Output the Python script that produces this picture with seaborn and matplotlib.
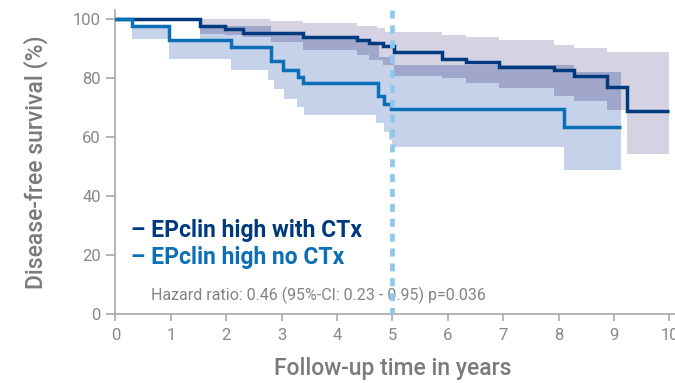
import numpy as np
import pandas as pd
import matplotlib
matplotlib.use("Agg")
import matplotlib.pyplot as plt
import seaborn as sns

# ---------------- data ----------------
# EPclin high with CTx  (Kaplan-Meier steps, survival in %)
dark_t = [0, 1.53, 1.98, 2.30, 3.38, 4.36, 4.58, 4.82, 5.03, 5.89, 6.33, 6.93, 7.92, 8.28, 8.88, 9.24]
dark_s = [100, 97.7, 96.5, 95.1, 93.9, 92.8, 91.9, 90.7, 88.9, 86.3, 85.3, 83.8, 82.5, 80.5, 76.8, 68.9]
dark_end = 10.0
dark_up_t = [0, 2.79, 3.38, 4.36, 4.72, 4.87, 5.89, 6.33, 6.93, 7.92, 8.28, 8.88]
dark_up = [100, 99.2, 98.5, 97.6, 96.8, 95.6, 94.6, 93.7, 92.9, 91.2, 90.1, 88.9]
dark_lo_t = [0, 1.53, 1.98, 2.30, 2.80, 3.38, 4.36, 4.58, 4.82, 5.03, 5.89, 6.33, 6.93, 7.92, 8.28, 8.88, 9.24]
dark_lo = [100, 95.0, 94.5, 93.8, 92.0, 89.4, 87.7, 86.0, 84.3, 80.7, 79.9, 78.4, 76.5, 74.0, 72.0, 69.2, 54.3]

# EPclin high no CTx
light_t = [0, 0.30, 0.97, 2.08, 2.81, 3.02, 3.30, 3.39, 4.73, 4.85, 4.97, 8.10]
light_s = [100, 97.5, 92.9, 90.5, 85.6, 82.7, 80.2, 78.4, 73.7, 71.3, 69.4, 63.5]
light_end = 9.13
light_up_t = [0, 0.30, 0.97, 1.53, 2.80, 3.38, 4.36, 4.58, 4.75, 5.03, 8.28]
light_up = [100, 97.5, 92.9, 97.7, 95.0, 94.0, 92.8, 91.9, 87.0, 84.3, 82.1]
light_lo_t = [0, 0.30, 0.97, 2.08, 2.76, 2.86, 3.04, 3.28, 3.40, 4.70, 4.84, 4.93, 4.99, 8.10]
light_lo = [100, 93.3, 86.5, 82.7, 79.3, 76.2, 72.9, 70.3, 67.3, 64.6, 61.8, 59.0, 56.6, 48.8]

x_ticks = list(range(0, 11))
y_ticks = [0, 20, 40, 60, 80, 100]
landmark_year = 5
series_labels = ["EPclin high with CTx", "EPclin high no CTx"]
hazard_text = "Hazard ratio: 0.46 (95%-CI: 0.23 - 0.95) p=0.036"
x_label = "Follow-up time in years"
y_label = "Disease-free survival (%)"

# ---------------- style ----------------
NAVY = "#003a7e"
BLUE = "#0a6fb6"
LAV = "#d5d2e4"
LB = "#c5d2e9"
OV = "#a1a7cb"
DASH = "#8dc9ec"
GRAY_AX = "#a8a8a8"
GRAY_TXT = "#888888"

sns.set_theme(style="white")
plt.rcParams["font.family"] = ["Roboto", "DejaVu Sans"]

fig = plt.figure(figsize=(6.75, 3.83), dpi=100)
ax = fig.add_axes([0.1711, 0.1802, 0.8289, 0.7937])


def step_eval(t, v, grid):
    idx = np.searchsorted(np.asarray(t), grid, side="right") - 1
    return np.asarray(v, dtype=float)[idx]


grid = np.unique(np.concatenate([dark_t, dark_up_t, dark_lo_t, light_t, light_up_t,
                                 light_lo_t, [dark_end, light_end]]))

# confidence bands
gd = grid[grid <= dark_end]
ax.fill_between(gd, step_eval(dark_lo_t, dark_lo, gd), step_eval(dark_up_t, dark_up, gd),
                step="post", color=LAV, lw=0, zorder=1)
gl = grid[grid <= light_end]
l_lo = step_eval(light_lo_t, light_lo, gl)
l_up = step_eval(light_up_t, light_up, gl)
ax.fill_between(gl, l_lo, l_up, step="post", color=LB, lw=0, zorder=1.1)
ov_lo = np.maximum(l_lo, step_eval(dark_lo_t, dark_lo, gl))
ov_up = np.minimum(l_up, step_eval(dark_up_t, dark_up, gl))
ov_up = np.maximum(ov_up, ov_lo)
ax.fill_between(gl, ov_lo, ov_up, step="post", color=OV, lw=0, zorder=1.2)

# survival curves
df_dark = pd.DataFrame({"t": dark_t + [dark_end], "s": dark_s + [dark_s[-1]]})
df_light = pd.DataFrame({"t": light_t + [light_end], "s": light_s + [light_s[-1]]})
sns.lineplot(data=df_dark, x="t", y="s", ax=ax, color=NAVY, lw=2.5, estimator=None,
             drawstyle="steps-post", zorder=3, solid_joinstyle="miter", solid_capstyle="butt")
sns.lineplot(data=df_light, x="t", y="s", ax=ax, color=BLUE, lw=2.5, estimator=None,
             drawstyle="steps-post", zorder=3.1, solid_joinstyle="miter", solid_capstyle="butt")

# landmark line
ax.plot([landmark_year, landmark_year], [103, 0], color=DASH, lw=3.4, dashes=(1.7, 1.45),
        zorder=4, clip_on=False)

ax.set_xlim(0, 10.1)
ax.set_ylim(0, 103)
ax.set_xticks(x_ticks)
ax.set_yticks(y_ticks)

for s in ["top", "right"]:
    ax.spines[s].set_visible(False)
for s in ["left", "bottom"]:
    ax.spines[s].set_color(GRAY_AX)
    ax.spines[s].set_linewidth(1.2)

ax.tick_params(axis="both", bottom=True, left=True, direction="out", width=1.2,
               color=GRAY_AX, labelcolor=GRAY_TXT, labelsize=12)
ax.tick_params(axis="y", length=6.5, pad=4)
ax.tick_params(axis="x", length=5, pad=5)

ax.set_xlabel(x_label, fontsize=16.5, color="#7a7a7a", va="center", fontweight="medium")
ax.xaxis.set_label_coords(0.495, -0.178)
ax.set_ylabel(y_label, fontsize=16.5, color="#7a7a7a", va="center", fontweight="medium")
ax.yaxis.set_label_coords(-0.142, 0.5)

ax.text(0.28, 26.1, "– " + series_labels[0], color=NAVY, fontsize=16.5,
        fontweight="bold", va="baseline", ha="left")
ax.text(0.28, 17.1, "– " + series_labels[1], color=BLUE, fontsize=16.5,
        fontweight="bold", va="baseline", ha="left")
ax.text(0.64, 4.75, hazard_text, color="#838383", fontsize=11.5, va="baseline", ha="left")

fig.savefig("out.png", dpi=100)
